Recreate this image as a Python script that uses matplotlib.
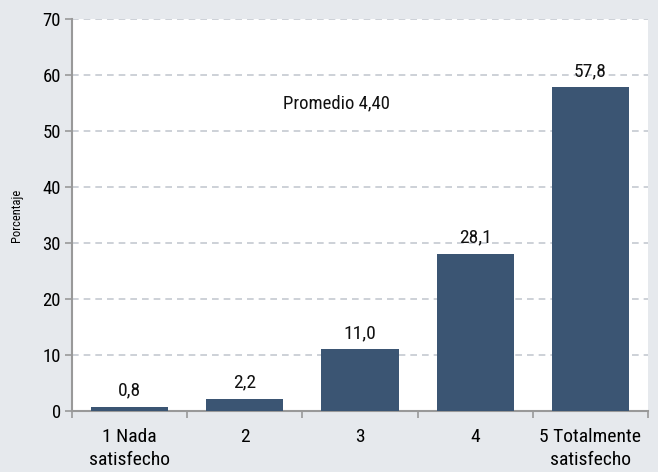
import matplotlib.pyplot as plt

plt.rcParams['font.family'] = ['Roboto Condensed', 'DejaVu Sans']

categorias = ['1 Nada\nsatisfecho', '2', '3', '4', '5 Totalmente\nsatisfecho']
valores = [0.8, 2.2, 11.0, 28.1, 57.8]
etiquetas = ['0,8', '2,2', '11,0', '28,1', '57,8']
promedio = 'Promedio 4,40'

fondo = '#e6e9ed'
azul = '#3b5573'

fig = plt.figure(figsize=(6.58, 4.72), dpi=100, facecolor=fondo)
ax = fig.add_axes([0.1094, 0.1292, 0.8754, 0.8305])
ax.set_facecolor('white')

x = range(len(categorias))
ax.bar(x, valores, width=0.67, color=azul, zorder=3)
for i, v in enumerate(valores):
    ax.text(i, v + 1.3, etiquetas[i], ha='center', va='bottom', fontsize=14,
            color='#111111')

ax.text(1.8, 55, promedio, ha='center', va='center', fontsize=13.5, color='#111111')

ax.set_ylim(0, 70)
ax.set_xlim(-0.5, 4.5)
ax.set_yticks(range(0, 71, 10))
ax.yaxis.grid(True, linestyle=(0, (4, 3)), color='#c5c9d1', linewidth=1.2, zorder=0)
ax.set_xticks([i - 0.5 for i in range(6)])
ax.set_xticklabels([])
ax.set_xticks(list(x), minor=True)
ax.set_xticklabels(categorias, minor=True, fontsize=14, linespacing=1.35)
ax.tick_params(axis='x', which='minor', length=0, pad=12)
ax.tick_params(axis='x', which='major', length=5, color='#999999', width=1.2)
ax.tick_params(axis='y', length=5, color='#999999', width=1.2, labelsize=13.5, pad=3)

for s in ['top', 'right']:
    ax.spines[s].set_visible(False)
for s in ['left', 'bottom']:
    ax.spines[s].set_color('#999999')
    ax.spines[s].set_linewidth(1.5)

ax.set_ylabel('Porcentaje', fontsize=9, labelpad=14)

fig.savefig('out.png', dpi=100, facecolor=fondo)
